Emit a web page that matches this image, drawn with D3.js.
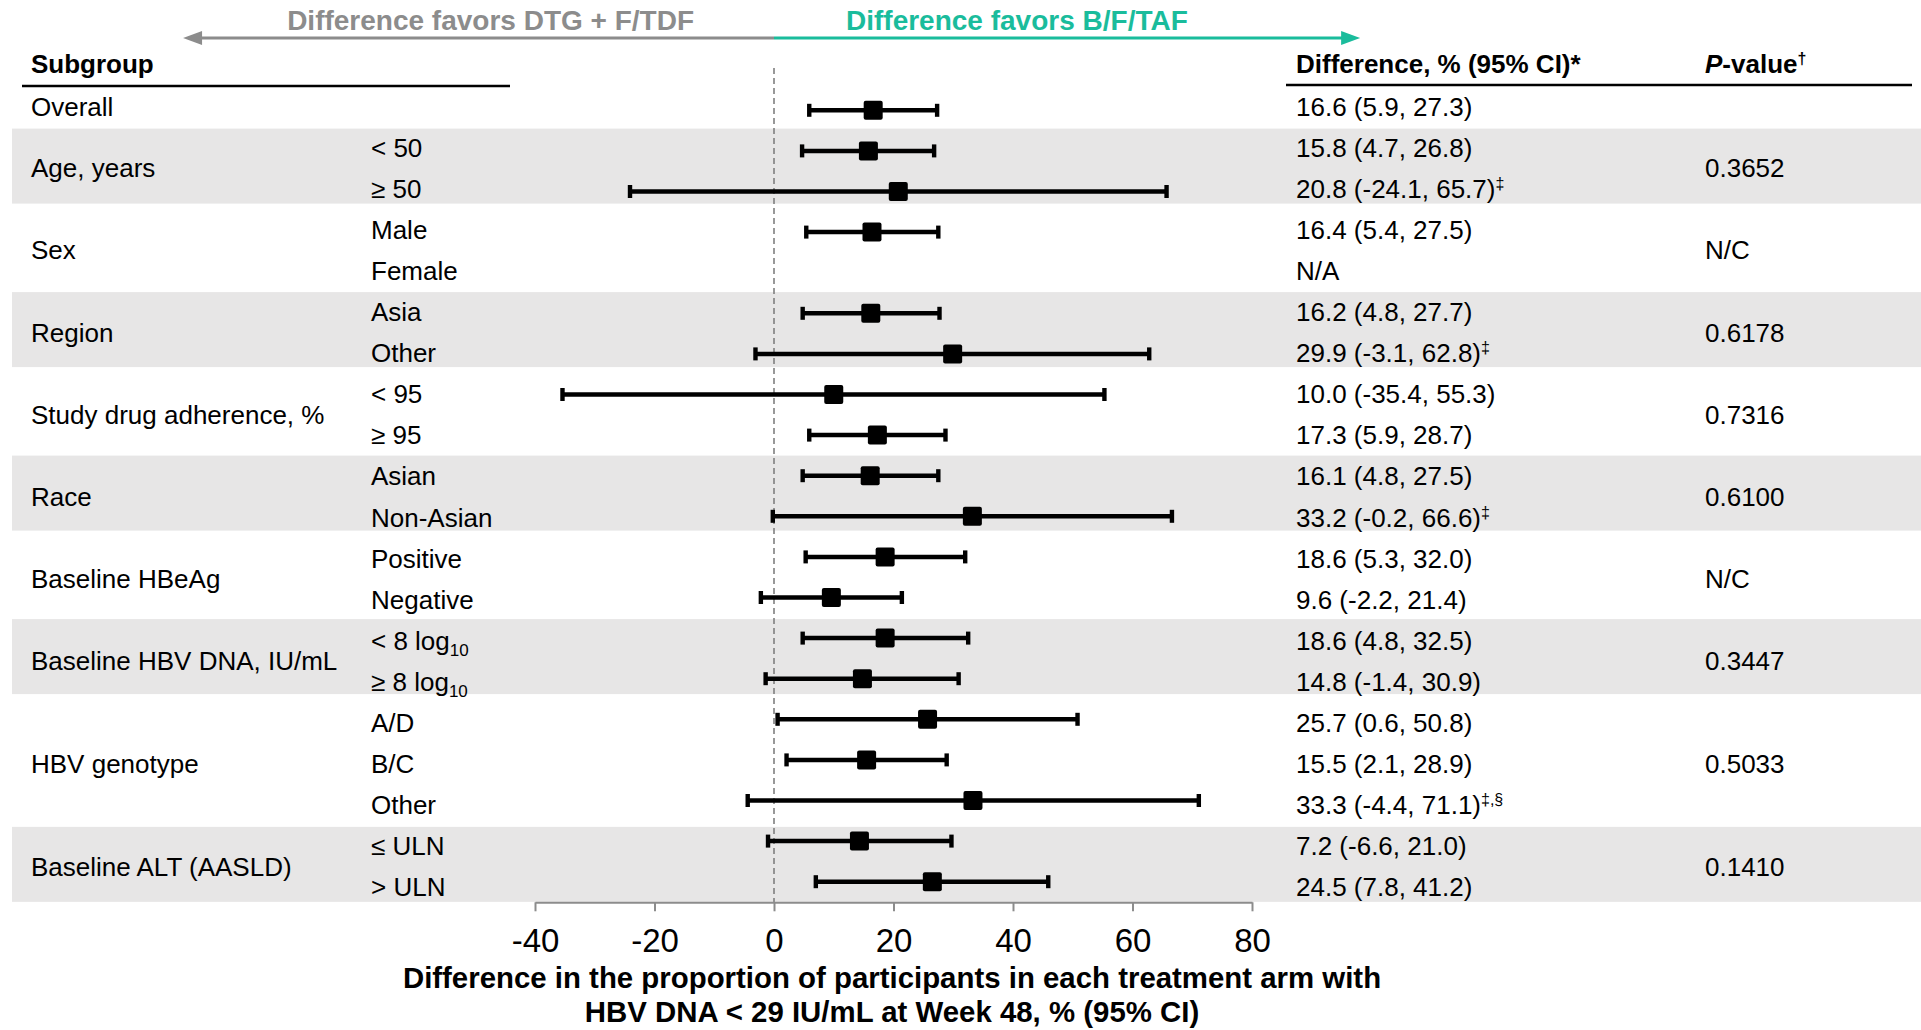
<!DOCTYPE html>
<html>
<head>
<meta charset="utf-8">
<script src="https://cdn.jsdelivr.net/npm/d3@7"></script>
<style>
  html, body { margin: 0; padding: 0; background: #ffffff; }
  svg { display: block; }
  text { font-family: "Liberation Sans", Arial, Helvetica, sans-serif; }
</style>
</head>
<body>
<svg id="chart" width="1921" height="1030"></svg>
<script>
// ---------------- DATA ----------------
const groupNames = ["Overall", "Age, years", "Sex", "Region", "Study drug adherence, %", "Race",
  "Baseline HBeAg", "Baseline HBV DNA, IU/mL", "HBV genotype", "Baseline ALT (AASLD)"];
const groupSizes = [1, 2, 2, 2, 2, 2, 2, 2, 3, 2];
const pValues = ["", "0.3652", "N/C", "0.6178", "0.7316", "0.6100", "N/C", "0.3447", "0.5033", "0.1410"];

const subgroupLabels = ["", "< 50", "≥ 50", "Male", "Female", "Asia", "Other", "< 95", "≥ 95",
  "Asian", "Non-Asian", "Positive", "Negative", "< 8 log", "≥ 8 log", "A/D", "B/C", "Other", "≤ ULN", "> ULN"];
const subgroupSubscripts = ["", "", "", "", "", "", "", "", "", "", "", "", "", "10", "10", "", "", "", "", ""];

// plotted marks (as drawn in the picture)
const estimates = [16.6, 15.8, 20.8, 16.4, null, 16.2, 29.9, 10.0, 17.3, 16.1, 33.2, 18.6, 9.6, 18.6, 14.8, 25.7, 15.5, 33.3, 14.3, 26.5];
const lowerCI   = [5.9, 4.7, -24.1, 5.4, null, 4.8, -3.1, -35.4, 5.9, 4.8, -0.2, 5.3, -2.2, 4.8, -1.4, 0.6, 2.1, -4.4, -1.0, 7.0];
const upperCI   = [27.3, 26.8, 65.7, 27.5, null, 27.7, 62.8, 55.3, 28.7, 27.5, 66.6, 32.0, 21.4, 32.5, 30.9, 50.8, 28.9, 71.1, 29.7, 45.9];

// table text
const ciLabels = ["16.6 (5.9, 27.3)", "15.8 (4.7, 26.8)", "20.8 (-24.1, 65.7)", "16.4 (5.4, 27.5)", "N/A",
  "16.2 (4.8, 27.7)", "29.9 (-3.1, 62.8)", "10.0 (-35.4, 55.3)", "17.3 (5.9, 28.7)", "16.1 (4.8, 27.5)",
  "33.2 (-0.2, 66.6)", "18.6 (5.3, 32.0)", "9.6 (-2.2, 21.4)", "18.6 (4.8, 32.5)", "14.8 (-1.4, 30.9)",
  "25.7 (0.6, 50.8)", "15.5 (2.1, 28.9)", "33.3 (-4.4, 71.1)", "7.2 (-6.6, 21.0)", "24.5 (7.8, 41.2)"];
const ciNotes = ["", "", "‡", "", "", "", "‡", "", "", "", "‡", "", "", "", "", "", "", "‡,§", "", ""];

const tickValues = [-40, -20, 0, 20, 40, 60, 80];
const xDomain = [-40, 80];
const arrowLeftText = "Difference favors DTG + F/TDF";
const arrowRightText = "Difference favors B/F/TAF";
const xTitleLines = ["Difference in the proportion of participants in each treatment arm with",
  "HBV DNA < 29 IU/mL at Week 48, % (95% CI)"];

// ---------------- LAYOUT ----------------
const W = 1921, H = 1030;
const FS = 26;
const plotLeft = 535, plotRight = 1252;
const axisY = 902.3;
const tableTop = 85.8;
const overallRowH = 42.8, shadedRowH = 37.5, plainRowH = 44.25;
const colGroupX = 31, colSubX = 371, colCIX = 1296, colPX = 1705;
const bandColor = "#e7e6e6";
const teal = "#1abc9c";
const grey = "#8c8c8c";

const svg = d3.select("#chart");

const x = d3.scaleLinear().domain(xDomain).range([plotLeft, plotRight]);
const nRows = estimates.length;
const y = d3.scaleLinear().domain([0, nRows - 1]).range([110.3, 881.7]);      // marks
const yText = d3.scaleLinear().domain([0, nRows - 1]).range([106.4, 887.0]);  // table text centres

// table band geometry
const groups = [];
let cy = tableTop, rowIdx = 0;
groupNames.forEach((g, gi) => {
  const shaded = gi % 2 === 1;
  const rh = gi === 0 ? overallRowH : (shaded ? shadedRowH : plainRowH);
  const top = cy;
  const rows = d3.range(rowIdx, rowIdx + groupSizes[gi]);
  cy += rh * groupSizes[gi];
  rowIdx += groupSizes[gi];
  groups.push({ name: g, p: pValues[gi], top, bottom: cy, shaded, rows });
});

// bands
svg.append("g").selectAll("rect").data(groups.filter(g => g.shaded)).join("rect")
  .attr("x", 12).attr("width", W - 12)
  .attr("y", d => d.top).attr("height", d => d.bottom - d.top)
  .attr("fill", bandColor);

// header
const hdr = svg.append("g").attr("font-size", FS).attr("font-weight", "bold").attr("fill", "#000");
hdr.append("text").attr("x", colGroupX).attr("y", 73).text("Subgroup");
hdr.append("text").attr("x", colCIX).attr("y", 73).text("Difference, % (95% CI)*");
const pv = hdr.append("text").attr("x", colPX).attr("y", 73);
pv.append("tspan").attr("font-style", "italic").text("P");
pv.append("tspan").text("-value");
pv.append("tspan").attr("font-size", 16).attr("dy", -9).text("†");
svg.append("line").attr("x1", 22).attr("x2", 510).attr("y1", 86).attr("y2", 86)
  .attr("stroke", "#000").attr("stroke-width", 2.5);
svg.append("line").attr("x1", 1286).attr("x2", 1912).attr("y1", 85).attr("y2", 85)
  .attr("stroke", "#000").attr("stroke-width", 2.5);

// top arrows
const arrowY = 38;
const leftTip = x(-98.9), rightTip = x(98.1);
svg.append("line").attr("x1", x(0)).attr("x2", leftTip + 16).attr("y1", arrowY).attr("y2", arrowY)
  .attr("stroke", grey).attr("stroke-width", 3);
svg.append("path").attr("d", `M${leftTip},${arrowY} L${leftTip + 19},${arrowY - 7} L${leftTip + 19},${arrowY + 7} Z`)
  .attr("fill", grey);
svg.append("line").attr("x1", x(0)).attr("x2", rightTip - 16).attr("y1", arrowY).attr("y2", arrowY)
  .attr("stroke", teal).attr("stroke-width", 3);
svg.append("path").attr("d", `M${rightTip},${arrowY} L${rightTip - 19},${arrowY - 7} L${rightTip - 19},${arrowY + 7} Z`)
  .attr("fill", teal);
svg.append("text").attr("x", 694).attr("y", 30).attr("text-anchor", "end")
  .attr("font-size", 28).attr("font-weight", "bold").attr("fill", grey).text(arrowLeftText);
svg.append("text").attr("x", 846).attr("y", 30).attr("text-anchor", "start")
  .attr("font-size", 28).attr("font-weight", "bold").attr("fill", teal).text(arrowRightText);

// table text
const BL = 9.3; // centre -> baseline
const tbl = svg.append("g").attr("font-size", FS).attr("fill", "#000");
const groupCentre = d => d3.mean(d.rows, i => yText(i));
tbl.selectAll("text.grp").data(groups).join("text").attr("class", "grp")
  .attr("x", colGroupX).attr("y", d => groupCentre(d) + BL).text(d => d.name);
tbl.selectAll("text.pv").data(groups).join("text").attr("class", "pv")
  .attr("x", colPX).attr("y", d => groupCentre(d) + BL).text(d => d.p);

const rowsIdx = d3.range(nRows);
const sub = tbl.selectAll("text.sub").data(rowsIdx.filter(i => subgroupLabels[i] !== "")).join("text")
  .attr("class", "sub").attr("x", colSubX).attr("y", i => yText(i) + BL);
sub.append("tspan").text(i => subgroupLabels[i]);
sub.filter(i => subgroupSubscripts[i] !== "").append("tspan")
  .attr("font-size", 17).attr("dy", 6).text(i => subgroupSubscripts[i]);

const ci = tbl.selectAll("text.ci").data(rowsIdx).join("text")
  .attr("class", "ci").attr("x", colCIX).attr("y", i => yText(i) + BL);
ci.append("tspan").text(i => ciLabels[i]);
ci.filter(i => ciNotes[i] !== "").append("tspan")
  .attr("font-size", 16).attr("dy", -9).text(i => ciNotes[i]);

// reference dashed line
svg.append("line").attr("x1", x(0)).attr("x2", x(0)).attr("y1", 68).attr("y2", axisY)
  .attr("stroke", "#7f7f7f").attr("stroke-width", 1.6).attr("stroke-dasharray", "6,4");

// forest marks
const idx = rowsIdx.filter(i => estimates[i] !== null);
const marks = svg.append("g");
marks.selectAll("line.ci").data(idx).join("line").attr("class", "ci")
  .attr("x1", i => x(lowerCI[i])).attr("x2", i => x(upperCI[i]))
  .attr("y1", i => y(i)).attr("y2", i => y(i))
  .attr("stroke", "#000").attr("stroke-width", 4.5);
marks.selectAll("rect.capL").data(idx).join("rect").attr("class", "capL")
  .attr("x", i => x(lowerCI[i]) - 2.2).attr("y", i => y(i) - 6.5).attr("width", 4.4).attr("height", 13).attr("fill", "#000");
marks.selectAll("rect.capR").data(idx).join("rect").attr("class", "capR")
  .attr("x", i => x(upperCI[i]) - 2.2).attr("y", i => y(i) - 6.5).attr("width", 4.4).attr("height", 13).attr("fill", "#000");
marks.selectAll("rect.pt").data(idx).join("rect").attr("class", "pt")
  .attr("x", i => x(estimates[i]) - 9.5).attr("y", i => y(i) - 9.5).attr("width", 19).attr("height", 19)
  .attr("rx", 2).attr("fill", "#000");

// axis
const axis = svg.append("g").attr("transform", `translate(0,${axisY})`)
  .call(d3.axisBottom(x).tickValues(tickValues).tickSize(9).tickPadding(17).tickSizeOuter(0).tickFormat(d => String(d)));
axis.select(".domain").attr("stroke", grey).attr("stroke-width", 2);
axis.selectAll(".tick line").attr("stroke", grey).attr("stroke-width", 2);
axis.selectAll(".tick text").attr("font-size", 33).attr("fill", "#000")
  .attr("font-family", "'Liberation Sans', Arial, sans-serif");

// axis title
svg.append("g").attr("font-size", 29.4).attr("font-weight", "bold").attr("fill", "#000")
  .selectAll("text").data(xTitleLines).join("text")
  .attr("x", 892).attr("y", (d, i) => 988 + i * 34).attr("text-anchor", "middle").text(d => d);
</script>
</body>
</html>
